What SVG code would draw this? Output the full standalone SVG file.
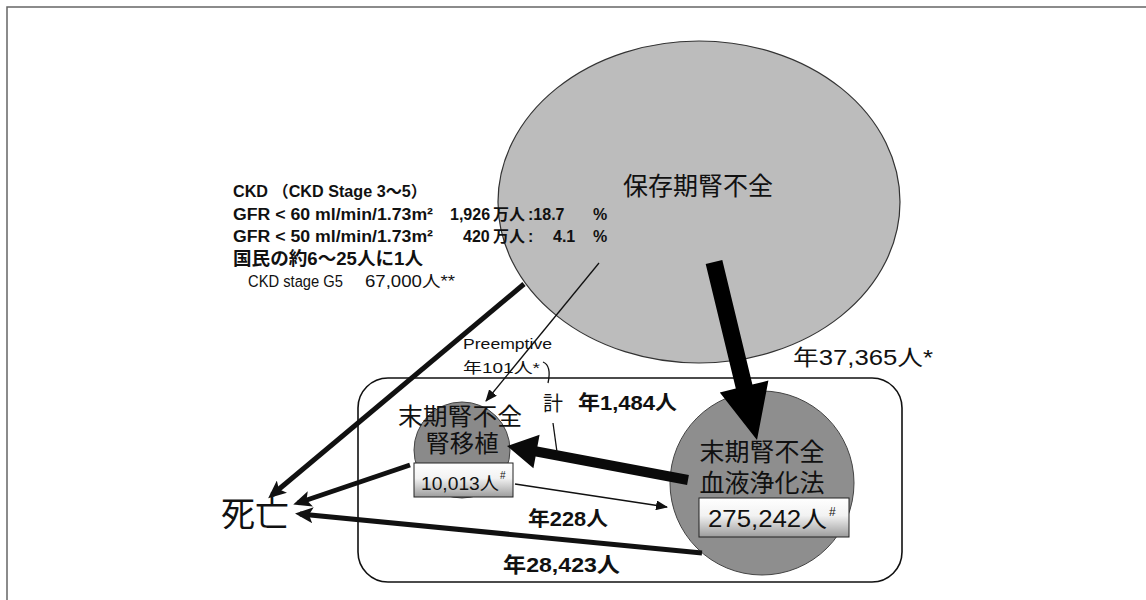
<svg xmlns="http://www.w3.org/2000/svg" width="1146" height="600" viewBox="0 0 1146 600">
<style>
.jp{font-family:"Noto Sans CJK JP","Liberation Sans",sans-serif;fill:#111}
.lat{font-family:"Liberation Sans","Noto Sans CJK JP",sans-serif;fill:#111}
.b{font-weight:bold}
.thick{stroke:#111;stroke-width:5;fill:none}
.thin{stroke:#111;stroke-width:1.3;fill:none}
</style>
<defs>
<marker id="hThick" viewBox="0 0 18 16" refX="13" refY="8" markerWidth="18" markerHeight="16" markerUnits="userSpaceOnUse" orient="auto">
<path d="M0,0 L18,8 L0,16 L4,8 z" fill="#111"/>
</marker>
<marker id="hThin" viewBox="0 0 12 10" refX="11" refY="5" markerWidth="12" markerHeight="10" markerUnits="userSpaceOnUse" orient="auto">
<path d="M0,0 L12,5 L0,10 z" fill="#111"/>
</marker>
<linearGradient id="boxg" x1="0" y1="0" x2="0" y2="1">
<stop offset="0" stop-color="#ffffff"/>
<stop offset="0.45" stop-color="#f2f2f2"/>
<stop offset="1" stop-color="#9c9c9c"/>
</linearGradient>
</defs>
<rect width="1146" height="600" fill="#fff"/>
<path d="M7,600 V7 H1146" fill="none" stroke="#666" stroke-width="1.5"/>

<g id="stage-box">
<rect x="358" y="378" width="544" height="204" rx="30" ry="30" fill="none" stroke="#111" stroke-width="1.6"/>
</g>

<g id="hozon">
<ellipse cx="699" cy="202" rx="201" ry="161" fill="#bcbcbc" stroke="#333" stroke-width="1.2"/>
<text class="lat" x="698" y="195" font-size="25" text-anchor="middle">保存期腎不全</text>
</g>

<g id="ckd-text">
<text class="lat b" x="233" y="197" font-size="16" textLength="194" lengthAdjust="spacingAndGlyphs">CKD （CKD Stage  3～5）</text>
<text class="lat b" x="233" y="220" font-size="16" textLength="200" lengthAdjust="spacingAndGlyphs">GFR &lt; 60 ml/min/1.73m²</text>
<text class="lat b" x="450" y="220" font-size="16">1,926</text>
<text class="lat b" x="493" y="220" font-size="16">万人</text>
<text class="lat b" x="528" y="220" font-size="16">:18.7</text>
<text class="lat b" x="593" y="220" font-size="16">%</text>
<text class="lat b" x="233" y="242" font-size="16" textLength="200" lengthAdjust="spacingAndGlyphs">GFR &lt; 50 ml/min/1.73m²</text>
<text class="lat b" x="463" y="242" font-size="16">420</text>
<text class="lat b" x="493" y="242" font-size="16">万人</text>
<text class="lat b" x="528" y="242" font-size="16">:</text>
<text class="lat b" x="553" y="242" font-size="16">4.1</text>
<text class="lat b" x="593" y="242" font-size="16">%</text>
<text class="lat b" x="233" y="265" font-size="18" textLength="190" lengthAdjust="spacingAndGlyphs">国民の約6～25人に1人</text>
<text class="lat" x="248" y="287" font-size="16" textLength="95" lengthAdjust="spacingAndGlyphs">CKD stage G5</text>
<text class="lat" x="365" y="287" font-size="16" textLength="90" lengthAdjust="spacingAndGlyphs">67,000人**</text>
</g>

<g id="dialysis">
<circle cx="762" cy="483" r="92" fill="#8e8e8e" stroke="#444" stroke-width="1"/>
<text class="lat" x="762" y="461" font-size="25" text-anchor="middle">末期腎不全</text>
<text class="lat" x="762" y="492" font-size="25" text-anchor="middle">血液浄化法</text>
<rect x="699" y="498" width="150" height="39" fill="url(#boxg)" stroke="#222" stroke-width="1"/>
<text class="lat" x="708" y="527" font-size="23" textLength="119" lengthAdjust="spacingAndGlyphs">275,242人</text>
<text class="lat" x="829" y="516" font-size="12">#</text>
</g>

<g id="transplant">
<circle cx="462" cy="450" r="48" fill="#8a8a8a" stroke="#444" stroke-width="1"/>
<text class="lat" x="460" y="425" font-size="24" text-anchor="middle" textLength="124" lengthAdjust="spacingAndGlyphs">末期腎不全</text>
<text class="lat" x="462" y="452" font-size="24" text-anchor="middle" textLength="73" lengthAdjust="spacingAndGlyphs">腎移植</text>
<rect x="414" y="463" width="99" height="34" fill="url(#boxg)" stroke="#222" stroke-width="1"/>
<text class="lat" x="421" y="490" font-size="18" textLength="78" lengthAdjust="spacingAndGlyphs">10,013人</text>
<text class="lat" x="500" y="479" font-size="10">#</text>
</g>

<g id="death">
<text class="lat" x="221" y="526" font-size="34">死亡</text>
</g>

<g id="connectors">
<polygon points="722.3,260 752.4,384.5 768.4,380.6 757,440 719.8,392.4 735.8,388.5 705.7,264" fill="#000"/>
<polygon points="507,446 533.4,468.2 535.6,456.4 687.1,484.9 688.9,475.1 537.4,446.6 539.6,434.8" fill="#0a0a0a"/>
<line class="thick" x1="524" y1="284" x2="272" y2="495" marker-end="url(#hThick)"/>
<line class="thick" x1="410" y1="465" x2="298" y2="503" marker-end="url(#hThick)"/>
<line class="thick" x1="702" y1="553" x2="300" y2="514" marker-end="url(#hThick)"/>
<line class="thin" x1="599" y1="263" x2="486" y2="401" marker-end="url(#hThin)"/>
<line class="thin" x1="515" y1="484" x2="667" y2="507" marker-end="url(#hThin)"/>
<path class="thin" d="M543,362 C550,365 550,374 548,383"/>
<path class="thin" d="M553,423 L557,452"/>
</g>

<g id="labels">
<text class="lat" x="463" y="349" font-size="14" textLength="89" lengthAdjust="spacingAndGlyphs">Preemptive</text>
<text class="lat" x="463" y="373" font-size="15" textLength="77" lengthAdjust="spacingAndGlyphs">年101人*</text>
<text class="lat" x="543" y="411" font-size="20">計</text>
<text class="lat b" x="578" y="410" font-size="20" textLength="99" lengthAdjust="spacingAndGlyphs">年1,484人</text>
<text class="lat" x="793" y="365" font-size="22" textLength="140" lengthAdjust="spacingAndGlyphs">年37,365人*</text>
<text class="lat b" x="528" y="526" font-size="20" textLength="80" lengthAdjust="spacingAndGlyphs">年228人</text>
<text class="lat b" x="503" y="572" font-size="21" textLength="117" lengthAdjust="spacingAndGlyphs">年28,423人</text>
</g>
</svg>
